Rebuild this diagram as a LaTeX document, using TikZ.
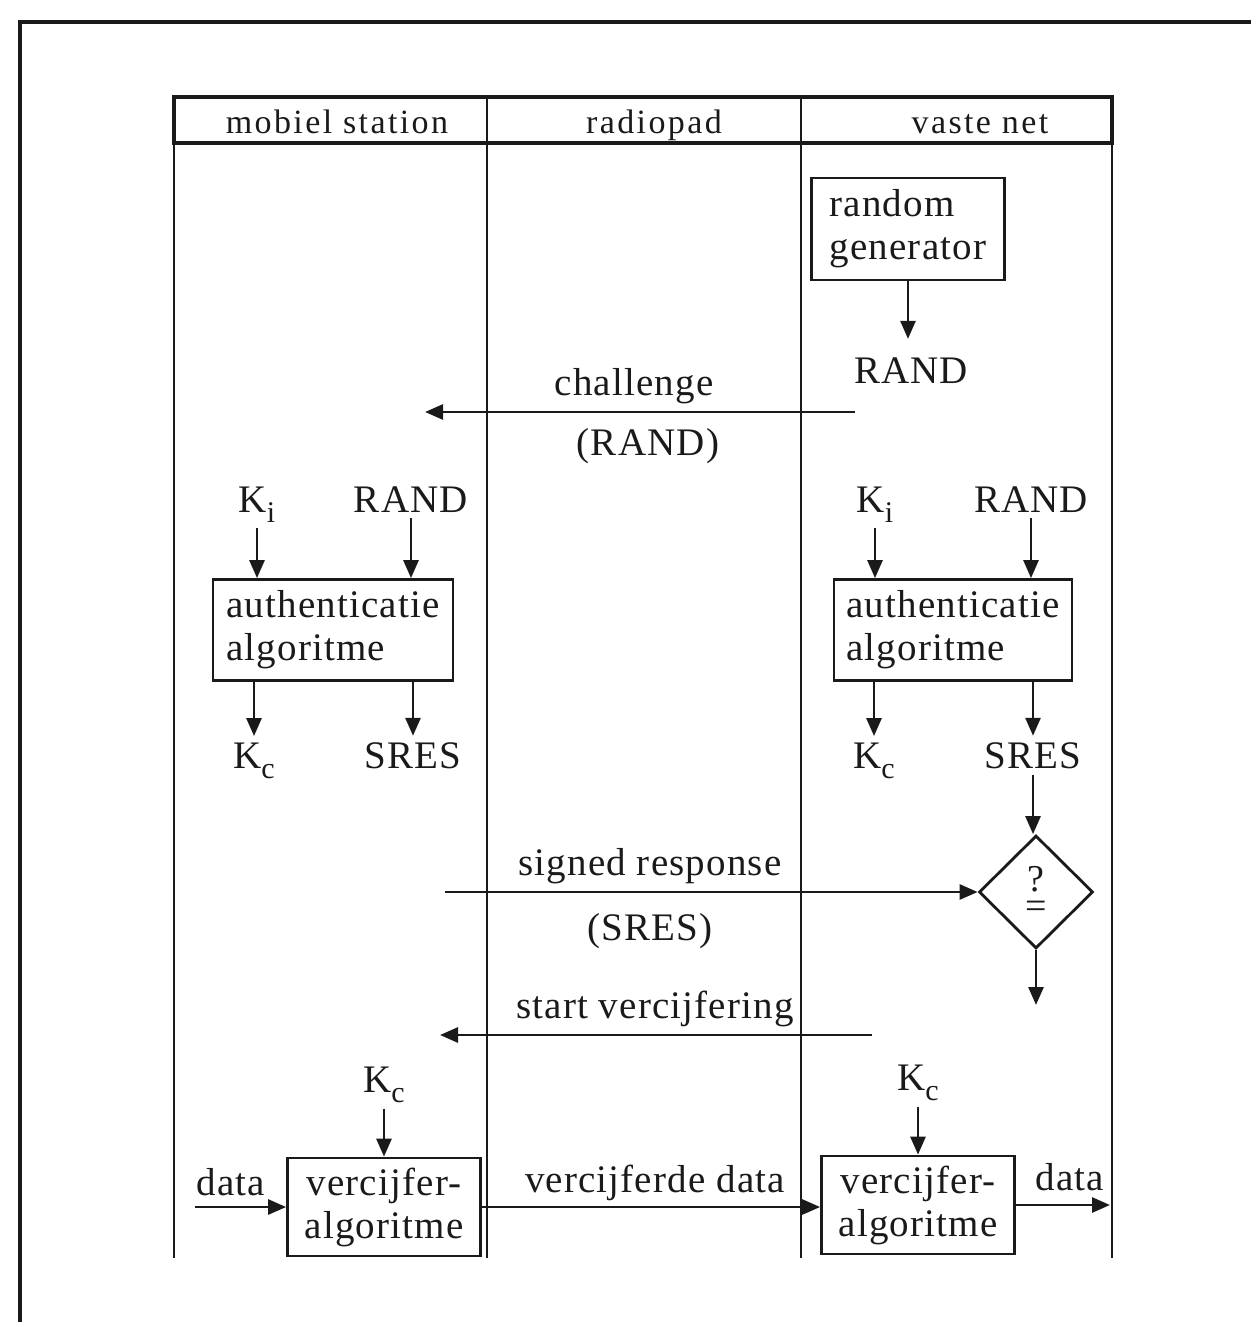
\documentclass[tikz,border=0pt]{standalone}
\usepackage{fontspec}
\setmainfont{Liberation Serif}[LetterSpace=3]
\newfontfamily\kopfont{Liberation Serif}[LetterSpace=7]
\usetikzlibrary{arrows.meta,shapes.geometric}
\definecolor{inkt}{HTML}{1a1a1a}
\newcommand{\ondersch}[1]{\raisebox{-10pt}{\fontsize{30}{30}\selectfont #1}}

\begin{document}
\begin{tikzpicture}[x=1pt, y=-1pt, color=inkt, line width=2.8pt,
  font=\fontsize{39}{43}\selectfont,
  blok/.style={draw, minimum height=101pt, align=left, inner sep=0pt},
  ruit/.style={draw, diamond, minimum width=114pt, minimum height=113pt, inner sep=0pt, align=center,
    font=\fontsize{38}{27}\selectfont},
  pijl/.style={-{Triangle[length=18pt,width=15pt]}},
  tekst/.style={anchor=base, inner sep=5pt},
  kop/.style={anchor=base, font=\kopfont\fontsize{34}{38}\selectfont}]
\useasboundingbox (0,0) rectangle (1251,1322);

% Kader
\draw[line width=3.5pt] (1251,22) -- (20,22) -- (20,1322);

% Kolommen
\draw[line width=3.5pt] (174,97) rectangle (1112,143);
\foreach \x in {174,487,801,1112} \draw (\x,97) -- (\x,1258);
\node[kop] (ms) at (337,133) {mobiel station};
\node[kop] (rp) at (654,133) {radiopad};
\node[kop] (vn) at (980,133) {vaste net};

% Random generator
\node[blok, minimum width=193pt, minimum height=102pt] (gen) at (908,229) {random\\generator};
\node[tekst] (rand0) at (911,383) {RAND};
\draw[pijl, shorten >=12pt] (gen.south) -- (gen.south |- rand0.north);

% Challenge
\coordinate (ch1) at (855,412);
\coordinate (ch2) at (425,412);
\draw[pijl] (ch1) -- (ch2);
\node[tekst] (chal) at (634,395) {challenge};
\node[tekst] (chrand) at (648,455) {(RAND)};

% Authenticatie
\node[blok, minimum width=240pt] (auth1) at (333,630) {authenticatie\\algoritme};
\node[blok, minimum width=238pt] (auth2) at (953,630) {authenticatie\\algoritme};

\node[tekst] (ki1) at (257,512) {K\ondersch{i}};
\node[tekst] (rand1) at (411,512) {RAND};
\node[tekst] (kc1) at (254,768) {K\ondersch{c}};
\node[tekst] (sres1) at (413,768) {SRES};
\node[tekst] (ki2) at (875,512) {K\ondersch{i}};
\node[tekst] (rand2) at (1031,512) {RAND};
\node[tekst] (kc2) at (874,768) {K\ondersch{c}};
\node[tekst] (sres2) at (1033,768) {SRES};

\draw[pijl] (ki1) -- (ki1 |- auth1.north);
\draw[pijl] (rand1) -- (rand1 |- auth1.north);
\draw[pijl] (auth1.south -| kc1) -- (kc1);
\draw[pijl] (auth1.south -| sres1) -- (sres1);
\draw[pijl] (ki2) -- (ki2 |- auth2.north);
\draw[pijl] (rand2) -- (rand2 |- auth2.north);
\draw[pijl] (auth2.south -| kc2) -- (kc2);
\draw[pijl] (auth2.south -| sres2) -- (sres2);

% Vergelijking
\node[ruit] (vgl) at (1036,892) {?\\=};
\draw[pijl] (sres2) -- (sres2 |- vgl.north);
\coordinate (uit) at (1036,1005);
\draw[pijl] (vgl) -- (uit);

% Signed response
\coordinate (sr1) at (445,892);
\draw[pijl] (sr1) -- (vgl.west);
\node[tekst] (sresa) at (650,875) {signed response};
\node[tekst] (sresb) at (650,940) {(SRES)};

% Start vercijfering
\coordinate (sv1) at (872,1035);
\coordinate (sv2) at (440,1035);
\draw[pijl] (sv1) -- (sv2);
\node[tekst] (start) at (655,1018) {start vercijfering};

% Vercijfering
\node[blok, minimum width=193pt, minimum height=98pt, align=center] (ver1) at (384,1207) {vercijfer-\\algoritme};
\node[blok, minimum width=193pt, minimum height=98pt, align=center] (ver2) at (918,1205) {vercijfer-\\algoritme};
\node[tekst] (kc3) at (384,1092) {K\ondersch{c}};
\node[tekst] (kc4) at (918,1090) {K\ondersch{c}};
\draw[pijl] (kc3) -- (kc3 |- ver1.north);
\draw[pijl] (kc4) -- (kc4 |- ver2.north);

\coordinate (din) at (195,1207);
\draw[pijl] (din) -- (ver1.west);
\node[tekst] (data1) at (231,1195) {data};
\draw[pijl] (ver1.east) -- (ver1.east -| ver2.west);
\node[tekst] (vdata) at (655,1192) {vercijferde data};
\coordinate (dout) at (1110,1205);
\draw[pijl] (ver2.east) -- (dout);
\node[tekst] (data2) at (1070,1190) {data};
\end{tikzpicture}
\end{document}
